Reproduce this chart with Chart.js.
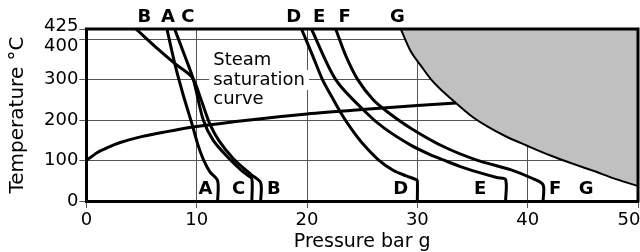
<!DOCTYPE html>
<html>
<head>
<meta charset="utf-8">
<script src="https://cdn.jsdelivr.net/npm/chart.js@4.4.1/dist/chart.umd.min.js"></script>
<style>
  html, body { margin: 0; padding: 0; background: #fff; overflow: hidden; }
  #wrap { width: 640px; height: 252px; position: relative; overflow: hidden; }
  canvas { display: block; }
</style>
</head>
<body>
<div id="wrap"><canvas id="c" width="640" height="252"></canvas></div>
<script>
// ---- data (pressure bar g, temperature °C) ----
const yTickValues = [0, 100, 200, 300, 400, 425];
const xTickStep = 10;

const satP = [0, 1, 2, 3, 5, 7, 10, 15, 20, 25, 30, 33.5];
const satT = [100, 120, 133, 144, 159, 170, 184, 201, 215, 226, 236, 242];

const aP = [7.3, 8.1, 8.8, 9.6, 10.1, 10.6, 11.2, 11.9, 11.9];
const aT = [425, 330, 260, 188, 140, 103, 72, 50, 0];

const bP = [4.5, 6.5, 8.0, 9.6, 10.4, 11.2, 12.0, 13.3, 14.3, 14.9, 15.8, 15.8];
const bT = [425, 375, 340, 305, 250, 190, 150, 105, 80, 66, 45, 0];

const cP = [8.0, 8.9, 9.7, 10.6, 11.5, 13.0, 14.0, 14.6, 15.0, 15.0];
const cT = [425, 360, 300, 200, 150, 103, 77, 64, 55, 0];

const dP = [19.5, 20.5, 21.4, 22.3, 23.2, 24.1, 25.1, 26.5, 27.8, 29.0, 29.9, 30.0, 30.0];
const dT = [425, 360, 300, 255, 212, 175, 140, 101, 76, 62, 53, 50, 0];

const eP = [20.4, 22.6, 25.3, 27.0, 29.4, 31.2, 32.4, 33.9, 35.4, 37.2, 38.0, 38.0];
const eT = [425, 300, 220, 180, 138, 114, 101, 85, 72, 58, 53, 0];

const fP = [22.6, 23.5, 24.6, 26.0, 27.3, 29.4, 32.4, 35.4, 38.5, 40.5, 41.4, 41.4];
const fT = [425, 360, 300, 250, 220, 180, 134, 101, 77, 55, 40, 0];

const gP = [28.5, 29.4, 30.3, 31.2, 32.1, 33.0, 34.8, 36.3, 38.0, 40.0, 42.0, 44.0, 46.0, 48.0, 50.0];
const gT = [425, 370, 335, 302, 276, 254, 212, 185, 160, 136, 113, 93, 74, 54, 37];

const topLetters = ['B', 'A', 'C', 'D', 'E', 'F', 'G'];
const bottomLetters = ['A', 'C', 'B', 'D', 'E', 'F', 'G'];
const steamLines = ['Steam', 'saturation', 'curve'];

// ---- annotation anchors (data coordinates) ----
const anchors = {
  topX: [5.25, 7.4, 9.2, 18.8, 21.1, 23.4, 28.2], topY: 455,
  bottomX: [10.8, 13.8, 17.0, 28.5, 35.7, 42.5, 45.3], bottomY: 30,
  steamX: 11.5, steamY: [348, 299, 250]
};

const pts = (xs, ys) => xs.map((v, i) => ({ x: v, y: ys[i] }));
const FONT = '"DejaVu Sans", sans-serif';

const curve = (label, xs, ys) => ({
  label, data: pts(xs, ys), borderColor: '#000', borderWidth: 3,
  pointRadius: 0, tension: 0.3, fill: false
});

const textPlugin = {
  id: 'textPlugin',
  beforeDatasetsDraw(chart) {
    const { ctx, scales: { x, y } } = chart;
    ctx.save();
    ctx.font = '18px ' + FONT;
    ctx.textAlign = 'left';
    ctx.textBaseline = 'middle';
    steamLines.forEach((t, i) => {
      const px = x.getPixelForValue(anchors.steamX);
      const py = y.getPixelForValue(anchors.steamY[i]);
      const w = ctx.measureText(t).width;
      ctx.fillStyle = '#fff';
      ctx.fillRect(px - 4, py - 10, w + 8, 20);
      ctx.fillStyle = '#000';
      ctx.fillText(t, px, py);
    });
    ctx.restore();
  },
  afterDatasetsDraw(chart) {
    const { ctx, chartArea: a, scales: { x, y } } = chart;
    ctx.save();
    ctx.strokeStyle = '#000';
    ctx.lineWidth = 3;
    ctx.beginPath();
    ctx.moveTo(a.left - 1.5, a.top);
    ctx.lineTo(a.right, a.top);
    ctx.lineTo(a.right, a.bottom + 1.5);
    ctx.stroke();
    ctx.fillStyle = '#000';
    ctx.font = 'bold 18px ' + FONT;
    ctx.textAlign = 'center';
    ctx.textBaseline = 'middle';
    topLetters.forEach((t, i) => ctx.fillText(t, x.getPixelForValue(anchors.topX[i]), y.getPixelForValue(anchors.topY)));
    bottomLetters.forEach((t, i) => ctx.fillText(t, x.getPixelForValue(anchors.bottomX[i]), y.getPixelForValue(anchors.bottomY)));
    ctx.restore();
  }
};

new Chart(document.getElementById('c'), {
  type: 'line',
  data: {
    datasets: [
      curve('Steam saturation curve', satP, satT),
      curve('A', aP, aT),
      curve('B', bP, bT),
      curve('C', cP, cT),
      curve('D', dP, dT),
      curve('E', eP, eT),
      curve('F', fP, fT),
      {
        label: 'G', data: pts(gP, gT), borderColor: '#000', borderWidth: 2,
        pointRadius: 0, tension: 0.3, fill: 'end', backgroundColor: '#c0c0c0'
      }
    ]
  },
  options: {
    responsive: false,
    animation: false,
    devicePixelRatio: 1,
    layout: { padding: { top: 29, left: 7, right: 0, bottom: 0 } },
    plugins: { legend: { display: false }, tooltip: { enabled: false } },
    scales: {
      x: {
        type: 'linear', min: 0, max: 50,
        ticks: {
          stepSize: xTickStep, color: '#000', padding: 3.5, maxRotation: 0, minRotation: 0,
          font: { family: FONT, size: 18, lineHeight: 1.0 },
          callback: v => v === 50 ? '50\u2002\u2002' : String(v)
        },
        grid: { color: '#555', lineWidth: 1, tickLength: 7 },
        border: { color: '#000', width: 3 },
        title: { display: true, text: 'Pressure bar g', color: '#000', font: { family: FONT, size: 19, lineHeight: 1.0 }, padding: { top: 0, bottom: 0 } },
        afterFit: s => { s.paddingRight = 2; }
      },
      y: {
        type: 'linear', min: 0, max: 425,
        afterBuildTicks: s => { s.ticks = yTickValues.map(v => ({ value: v })); },
        ticks: {
          color: '#000', padding: 1,
          font: c => ({ family: FONT, size: 18, lineHeight: c.tick && c.tick.value === 425 ? '6px' : (c.tick && c.tick.value === 400 ? '14px' : 1.2) }),
          callback: v => v === 425 ? ['425', ''] : (v === 400 ? ['', '400'] : String(v))
        },
        grid: { color: '#555', lineWidth: 1, tickLength: 7 },
        border: { color: '#000', width: 3 },
        title: { display: true, text: 'Temperature °C', color: '#000', font: { family: FONT, size: 20, lineHeight: 1.1 }, padding: { top: 0, bottom: 14 } }
      }
    }
  },
  plugins: [textPlugin]
});
</script>
</body>
</html>
